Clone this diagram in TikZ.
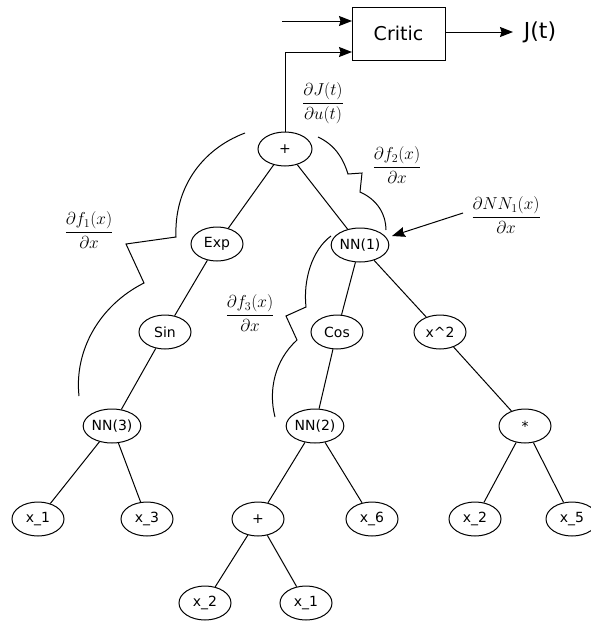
\documentclass[tikz,border=0pt]{standalone}
\usepackage{amsmath}
\usepackage{fontspec}
\setmainfont{DejaVu Sans}
\usetikzlibrary{arrows.meta,shapes.geometric}

\begin{document}
\begin{tikzpicture}[x=1pt,y=-1pt,
  line width=1pt,
  op/.style={draw,ellipse,minimum width=52pt,minimum height=34pt,inner sep=0pt,
             font=\fontsize{14}{16}\selectfont},
  edge/.style={draw},
  arr/.style={-{Stealth[length=13pt,width=10pt,inset=1.5pt]}},
  brace/.style={draw,line join=miter},
  deriv/.style={font=\fontsize{16.5}{20}\selectfont,inner sep=0pt}]
\useasboundingbox (0,0) rectangle (591,621);

% critic block
\node[draw,minimum width=93pt,minimum height=53pt,inner sep=0pt,
      font=\fontsize{19}{22}\selectfont] (critic) at (398.5,33.5) {Critic};
\node[font=\fontsize{22}{26}\selectfont,inner sep=0pt] (J) at (540,32) {J(t)};
\coordinate (src) at (282,21);
\coordinate (in1) at (352,21);
\coordinate (in2) at (352,52);
\coordinate (out) at (513,32);
\draw[arr] (src) -- (in1);
\draw[arr] (critic.east |- out) -- (out);

% expression tree
\node[op,minimum width=54pt] (plus) at (285,149) {+};
\node[op] (exp) at (217,244) {Exp};
\node[op,minimum width=54pt] (nn1) at (360,245) {NN(1)};
\node[op] (sin) at (165,332) {Sin};
\node[op] (cos) at (337,332) {Cos};
\node[op] (xsq) at (440,332) {x\^{}2};
\node[op] (nn3) at (112,426) {NN(3)};
\node[op] (nn2) at (315,426) {NN(2)};
\node[op] (mul) at (525,426) {*};
\node[op] (xa) at (38,519) {x\_1};
\node[op] (xc) at (147,519) {x\_3};
\node[op] (plus2) at (258,519) {+};
\node[op] (xf) at (372,519) {x\_6};
\node[op] (xb) at (475,519) {x\_2};
\node[op] (xe) at (572,519) {x\_5};
\node[op] (xb2) at (205,603) {x\_2};
\node[op] (xa2) at (306,603) {x\_1};

\draw[arr] (plus.north) |- (in2);

\path[edge] (plus) -- (exp);
\path[edge] (plus) -- (nn1);
\path[edge] (exp) -- (sin);
\path[edge] (sin) -- (nn3);
\path[edge] (nn3) -- (xa);
\path[edge] (nn3) -- (xc);
\path[edge] (nn1) -- (cos);
\path[edge] (nn1) -- (xsq);
\path[edge] (cos) -- (nn2);
\path[edge] (nn2) -- (plus2);
\path[edge] (nn2) -- (xf);
\path[edge] (plus2) -- (xb2);
\path[edge] (plus2) -- (xa2);
\path[edge] (xsq) -- (mul);
\path[edge] (mul) -- (xb);
\path[edge] (mul) -- (xe);

% derivative labels
\node[deriv] (dJ) at (323,103) {$\dfrac{\partial J(t)}{\partial u(t)}$};
\node[deriv] (df1) at (89,230) {$\dfrac{\partial f_1(x)}{\partial x}$};
\node[deriv] (df2) at (397,165) {$\dfrac{\partial f_2(x)}{\partial x}$};
\node[deriv] (df3) at (250,313) {$\dfrac{\partial f_3(x)}{\partial x}$};
\node[deriv] (dNN) at (506,215) {$\dfrac{\partial NN_1(x)}{\partial x}$};

\coordinate (dNNtail) at (463,213);
\draw[arr] (dNNtail) -- (392,236);

% broken braces marking the sub-expressions
\draw[brace] (245,133) .. controls (200,150) and (174,190) .. (176,237)
  -- (126,244) -- (144,283)
  .. controls (100,305) and (74,350) .. (79,396);
\draw[brace] (318,137) .. controls (335,145) and (343,158) .. (348,174)
  -- (362,173) -- (360,192)
  .. controls (378,200) and (386,215) .. (386,230);
\draw[brace] (331,236) .. controls (312,250) and (303,280) .. (306,307)
  -- (286,316) -- (297,340)
  .. controls (275,360) and (268,390) .. (275,417);
\end{tikzpicture}
\end{document}
